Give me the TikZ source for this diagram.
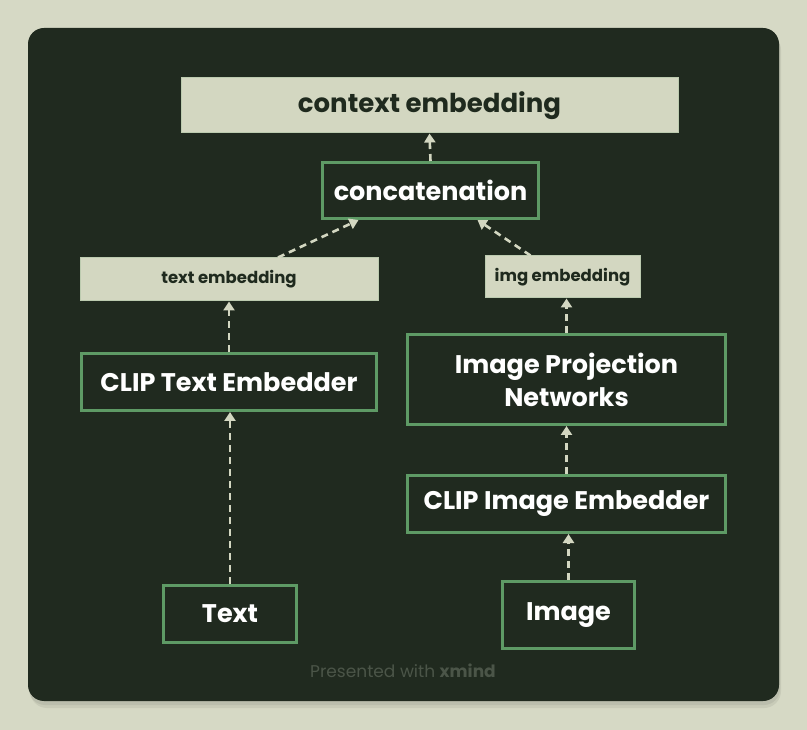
\documentclass[tikz,border=0pt]{standalone}
\usepackage{fontspec}
\setmainfont{Poppins}
\usetikzlibrary{arrows.meta}
\definecolor{bgc}{HTML}{D6D9C5}
\definecolor{panel}{HTML}{202A1F}
\definecolor{grn}{HTML}{5E9A65}
\definecolor{lite}{HTML}{D3D7C1}
\definecolor{dark}{HTML}{1F2A1E}
\definecolor{foot}{HTML}{4B5548}
\tikzset{
  gbox/.style={draw=grn, line width=3pt, fill=panel, text=white, font=\bfseries\fontsize{25.5}{33}\selectfont, inner sep=0pt, align=center},
  lbox/.style={draw=lite!80!grn, line width=1pt, fill=lite, text=dark, font=\bfseries\fontsize{16.5}{20}\selectfont, inner sep=0pt, align=center},
  conn/.style={draw=lite, line width=2.6pt, dash pattern=on 7pt off 5pt, -{Triangle[length=9pt,width=11pt]}}
}
\begin{document}
\begin{tikzpicture}[x=1pt,y=-1pt]
\fill[bgc] (0,0) rectangle (807,730);
\useasboundingbox (0,0) rectangle (807,730);
\fill[black!25!bgc, opacity=0.25] (30,33) [rounded corners=17pt] rectangle (781,708);
\fill[black!25!bgc, opacity=0.3] (29,31) [rounded corners=16pt] rectangle (780,705);
\fill[panel, rounded corners=16pt] (28,28) rectangle (779,701);

\node[lbox, minimum width=497pt, minimum height=55pt, font=\bfseries\fontsize{26}{30}\selectfont] (ctx) at (429.5,105.5) {context embedding};
\node[gbox, minimum width=216pt, minimum height=56pt] (cat) at (430.5,190.5) {concatenation};
\node[lbox, minimum width=298pt, minimum height=43pt] (temb) at (229,279.5) {text embedding};
\node[lbox, minimum width=155pt, minimum height=42pt] (iemb) at (562.5,277) {img embedding};
\node[gbox, minimum width=295pt, minimum height=57pt] (ctxt) at (229,382) {CLIP Text Embedder};
\node[gbox, minimum width=318pt, minimum height=90pt] (proj) at (566.5,379.5) {Image Projection\\Networks};
\node[gbox, minimum width=318pt, minimum height=57pt] (cimg) at (566.5,504) {CLIP Image Embedder};
\node[gbox, minimum width=133pt, minimum height=57pt] (txt) at (230,614) {Text};
\node[gbox, minimum width=132pt, minimum height=67pt] (img) at (568.5,615) {Image};

\node[text=foot, font=\fontsize{17}{20}\selectfont] (ft) at (403,671) {Presented with \textbf{xmind}};

\draw[conn] (cat.north) -- (ctx.south);
\draw[conn] ([xshift=49pt]temb.north) -- ([xshift=-72pt]cat.south);
\draw[conn] ([xshift=-32pt]iemb.north) -- ([xshift=47pt]cat.south);
\draw[conn] (ctxt.north) -- (temb.south);
\draw[conn] (proj.north) -- (iemb.south -| proj.north);
\draw[conn] (cimg.north) -- (proj.south);
\draw[conn] (txt.north) -- (ctxt.south -| txt.north);
\draw[conn] (img.north) -- (cimg.south -| img.north);
\end{tikzpicture}
\end{document}
